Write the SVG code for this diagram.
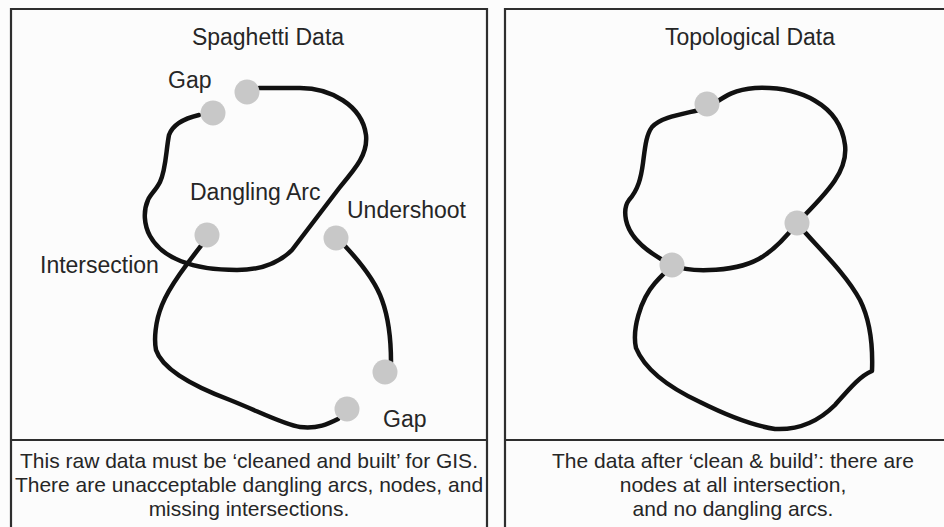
<svg xmlns="http://www.w3.org/2000/svg" width="944" height="527" viewBox="0 0 944 527">
  <style>
    .frame { fill: none; stroke: #2e2e2e; stroke-width: 2.2; }
    .arc { fill: none; stroke: #111; stroke-width: 4.5; stroke-linecap: round; stroke-linejoin: round; }
    .node { fill: #c8c8c8; }
    .lbl { font-family: "Liberation Sans", Arial, sans-serif; font-size: 23px; fill: #262626; }
    .cap { font-family: "Liberation Sans", Arial, sans-serif; font-size: 21px; fill: #262626; text-anchor: middle; }
  </style>
  <rect width="944" height="527" fill="#fcfcfc"/>

  <g id="frames">
    <path class="frame" d="M11,530 V9 H487 V530"/>
    <path class="frame" d="M11,440 H487"/>
    <path class="frame" d="M505,530 V9 H950"/>
    <path class="frame" d="M505,440 H950"/>
  </g>

  <g id="connectors">
    <!-- left panel -->
    <path class="arc" d="M199,115 C186,118 173,124 169,135 C166,150 166,170 160,182 C156,190 150,195 148,200 C143,211 144,225 150,236 C162,258 192,270 237,270 C262,270 280,262 292,250 L340,187 C356,168 368,154 366,135 C362,105 330,88 300,88 L259,88"/>
    <path class="arc" d="M204,242 C190,260 170,285 162,305 C155,322 154,340 156,350 C162,368 190,385 230,400 C260,412 285,425 300,427 C318,429 328,424 338,419"/>
    <path class="arc" d="M345,246 C360,262 375,280 382,300 C390,322 391,345 391,362"/>
    <!-- right panel -->
    <path class="arc" d="M672,265 C652,255 630,240 626,220 C624,210 626,204 629,200 C638,190 641,178 643,163 C645,148 646,135 652,127 C662,116 685,114 707,108 C720,101 728,90 755,88 C800,86 840,105 845,145 C848,170 830,190 797,223"/>
    <path class="arc" d="M672,265 C690,273 740,273 765,255 C780,245 790,232 797,223"/>
    <path class="arc" d="M797,223 C815,245 845,272 860,300 C870,320 873,345 872,371 C860,376 850,388 835,405 C815,425 795,430 775,429 C750,425 720,412 700,402 C670,388 645,370 636,348 C632,330 640,300 655,283 C662,275 668,270 672,265"/>
  </g>

  <g id="node-gap-1"><circle class="node" cx="213" cy="113" r="12.5"/></g>
  <g id="node-gap-2"><circle class="node" cx="247" cy="92" r="12.5"/></g>
  <g id="node-dangling"><circle class="node" cx="207" cy="235" r="12.5"/></g>
  <g id="node-undershoot"><circle class="node" cx="336" cy="238" r="12.5"/></g>
  <g id="node-gap-3"><circle class="node" cx="385" cy="372" r="12.5"/></g>
  <g id="node-gap-4"><circle class="node" cx="347" cy="409" r="12.5"/></g>
  <g id="node-topo-top"><circle class="node" cx="707" cy="104" r="12.5"/></g>
  <g id="node-topo-right"><circle class="node" cx="797" cy="223" r="12.5"/></g>
  <g id="node-topo-left"><circle class="node" cx="672" cy="265" r="12.5"/></g>

  <g id="labels">
    <text class="lbl" x="268" y="45" text-anchor="middle">Spaghetti Data</text>
    <text class="lbl" x="168" y="88">Gap</text>
    <text class="lbl" x="190" y="200">Dangling Arc</text>
    <text class="lbl" x="347" y="218">Undershoot</text>
    <text class="lbl" x="40" y="273">Intersection</text>
    <text class="lbl" x="383" y="427">Gap</text>
    <text class="lbl" x="750" y="45" text-anchor="middle">Topological Data</text>
  </g>

  <g id="captions">
    <text class="cap" x="249" y="468">This raw data must be ‘cleaned and built’ for GIS.</text>
    <text class="cap" x="249" y="492">There are unacceptable dangling arcs, nodes, and</text>
    <text class="cap" x="249" y="516">missing intersections.</text>
    <text class="cap" x="733" y="468">The data after ‘clean &amp; build’: there are</text>
    <text class="cap" x="733" y="492">nodes at all intersection,</text>
    <text class="cap" x="733" y="516">and no dangling arcs.</text>
  </g>
</svg>
